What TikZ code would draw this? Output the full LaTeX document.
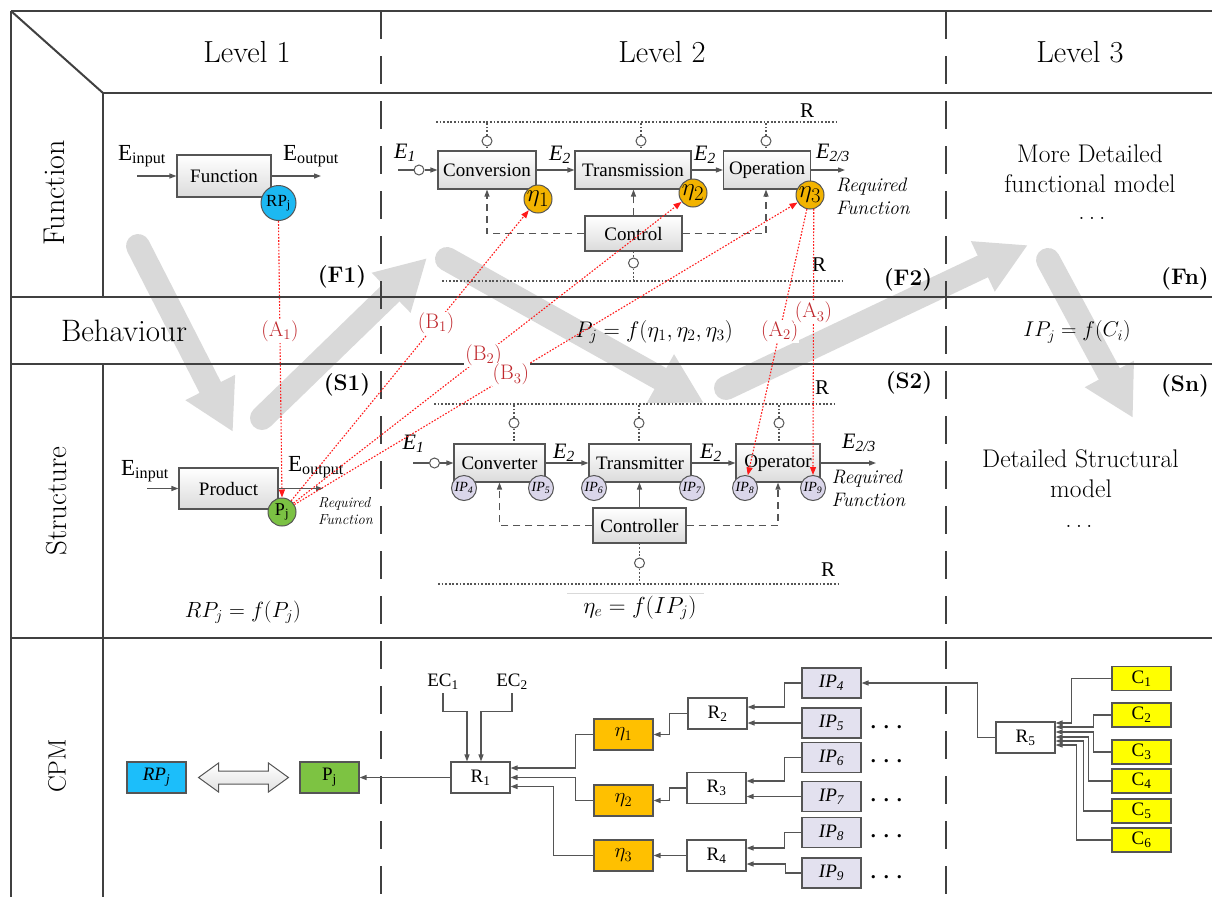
\documentclass[tikz,border=0pt]{standalone}
\usepackage{fontspec}
\usepackage{graphicx}
\usetikzlibrary{arrows.meta,calc}
\newfontfamily\tnr{Liberation Serif}
\newcommand{\fs}[1]{\fontsize{#1}{#1}\selectfont}
\newcommand{\mth}[2]{\fs{20.74}\scalebox{#1}{$#2$}}
\definecolor{tablec}{HTML}{404040}
\definecolor{boxc}{HTML}{555555}
\definecolor{garrow}{HTML}{D9D9D9}
\definecolor{rpblue}{HTML}{1CB8F2}
\definecolor{etagold}{HTML}{F2B300}
\definecolor{pgreen}{HTML}{7BC143}
\definecolor{iplav}{HTML}{DAD6EA}
\definecolor{ipbox}{HTML}{E3E1EF}
\definecolor{cyel}{HTML}{FFFF00}
\definecolor{etabox}{HTML}{FFC000}
\definecolor{redl}{HTML}{FF1A1A}
\definecolor{redt}{HTML}{C0282D}
\definecolor{cpmblue}{HTML}{1CBEFA}
\definecolor{cpmgreen}{HTML}{7DC342}
\begin{document}
\begin{tikzpicture}[x=1pt,y=-1pt,
  tbl/.style={draw=tablec,line width=2pt},
  tbldash/.style={draw=tablec,line width=2pt,dash pattern=on 28pt off 17pt},
  gbox/.style={draw=boxc,line width=1.1pt,top color=white,bottom color=black!14,inner sep=0pt,font=\tnr\fs{19}},
  cbox/.style={draw=boxc,line width=1.1pt,inner sep=0pt,minimum width=59pt,minimum height=31pt,font=\tnr\fs{19}},
  sc/.style={circle,draw=boxc,fill=white,line width=1pt,minimum size=10pt,inner sep=0pt},
  bigc/.style={circle,draw=boxc,line width=1pt,inner sep=0pt},
  arrtip/.style={-{Triangle[length=7pt,width=5pt]}},
  con/.style={draw=boxc,line width=1.2pt,arrtip},
  conl/.style={draw=boxc,line width=1.2pt},
  dashc/.style={draw=boxc,line width=1.2pt,dash pattern=on 7pt off 5pt},
  dotl/.style={draw=boxc,line width=1.2pt,dash pattern=on 1.8pt off 1.8pt},
  redc/.style={draw=redl,line width=1.1pt,dash pattern=on 1.6pt off 1.6pt,-{Triangle[length=8pt,width=6pt]}},
  redlab/.style={fill=white,inner sep=1pt,text=redt,font=\fontsize{21}{21}\selectfont},
  garr/.style={draw=garrow,line width=24pt,line cap=round,-{Triangle[length=50pt,width=52pt]}},
  elab/.style={font=\tnr\itshape\fs{22},anchor=base,inner sep=0pt},
  rlab/.style={font=\tnr\fs{21},inner sep=0pt},
  tag/.style={font=\bfseries\fs{22.5},inner sep=0pt},
  l3/.style={font=\fs{25.5},anchor=base,inner sep=0pt},
  dotsty/.style={font=\tnr\bfseries\fs{20},anchor=base west,inner sep=0pt}]
\useasboundingbox (0,0) rectangle (1212,897);

% big grey flow arrows
\draw[garr] (138,246) -- (233,432);
\draw[garr] (262,418) -- (427,258);
\draw[garr] (447,259) -- (704,403);
\draw[garr] (726,388) -- (1028,245);
\draw[garr] (1048,260) -- (1133,418);

% table
\draw[tbl] (11,11) -- (1212,11);
\draw[tbl] (11,11) -- (11,897);
\draw[tbl] (11,11) -- (103,93);
\draw[tbl] (103,93) -- (1212,93);
\draw[tbl] (103,93) -- (103,297);
\draw[tbl] (103,364) -- (103,897);
\draw[tbl] (11,297) -- (1212,297);
\draw[tbl] (11,364) -- (1212,364);
\draw[tbl] (11,638) -- (1212,638);
\draw[tbldash] (381,11) -- (381,897);
\draw[tbldash] (946,11) -- (946,897);

% headers
\node[font=\fs{30.5}] (lv1) at (247,52) {Level 1};
\node[font=\fs{30.5}] (lv2) at (662,52) {Level 2};
\node[font=\fs{30.5}] (lv3) at (1080,52) {Level 3};
\node[font=\fs{30}, rotate=90] (rfun) at (54,193) {Function};
\node[font=\fs{31}] (rbeh) at (124,331) {Behaviour};
\node[font=\fs{29}, rotate=90] (rstr) at (57,501) {Structure};
\node[font=\fs{25},rotate=90] (rcpm) at (57,766) {CPM};

% ---------- Function, level 1
\node[gbox,minimum width=94pt,minimum height=42pt] (fun) at (224,176) {Function};
\coordinate (fin1) at (137,176);
\coordinate (fout1) at (321,176);
\draw[con] (fin1) -- (fun.west);
\draw[con] (fun.east) -- (fout1);
\node[font=\tnr\fs{23},anchor=base,inner sep=0pt] (ein1) at (142,160) {E\textsubscript{input}};
\node[font=\tnr\fs{23},anchor=base,inner sep=0pt] (eout1) at (311,160) {E\textsubscript{output}};
\node[bigc,fill=rpblue,minimum size=35pt,font=\tnr\fs{17}] (rpj) at (278.5,203) {RP\textsubscript{j}};
\node[tag] (tf1) at (342,277) {(F1)};

% ---------- Function, level 2
\node[gbox,minimum width=98pt,minimum height=38pt] (conv) at (487,170) {Conversion};
\node[gbox,minimum width=116pt,minimum height=38pt] (trans) at (633,170) {Transmission};
\node[gbox,minimum width=87pt,minimum height=38pt] (oper) at (767,170) {Operation};
\node[gbox,minimum width=97pt,minimum height=35pt] (ctrl) at (633.5,233.5) {Control};
\coordinate (ftl) at (436,122); \coordinate (ftr) at (836,122);
\coordinate (fbl) at (442,281); \coordinate (fbr) at (842,281);
\draw[dotl] (ftl) -- (ftr);
\draw[dotl] (fbl) -- (fbr);
\node[sc] (fc1) at (487,141) {};
\node[sc] (fc2) at (641,141) {};
\node[sc] (fc3) at (766,141) {};
\foreach \c/\b in {fc1/conv,fc2/trans,fc3/oper}{
  \draw[dotl] (\c.north) -- (\c |- ftl);
  \draw[dotl] (\c.south) -- (\c |- \b.north);}
\node[sc] (fc4) at (633.5,263) {};
\draw[dotl] (ctrl.south) -- (fc4.north);
\draw[dotl] (fc4.south) -- (fc4 |- fbl);
\coordinate (fin2) at (398,170);
\node[sc] (fcin) at (419,170) {};
\draw[conl] (fin2) -- (fcin.west);
\draw[con] (fcin.east) -- (conv.west);
\draw[con] (conv.east) -- (trans.west);
\draw[con] (trans.east) -- (oper.west);
\coordinate (fout2) at (845,170);
\draw[con] (oper.east) -- (fout2);
\draw[dashc,arrtip] (ctrl.west) -| (conv.south);
\draw[dashc,arrtip] (ctrl.east) -| ($(oper.south)+(-1,0)$);
\draw[dashc,arrtip] (ctrl.north) -- (ctrl.north |- trans.south);
\node[elab] (fe1) at (405,158) {E\textsubscript{1}};
\node[elab] (fe2) at (560,160) {E\textsubscript{2}};
\node[elab] (fe3) at (705,160) {E\textsubscript{2}};
\node[elab] (fe4) at (833,158) {E\textsubscript{2/3}};
\node[rlab] (fr1) at (807,110.5) {R};
\node[rlab] (fr2) at (819,265) {R};
\node[font=\fontsize{19.5}{23}\selectfont\itshape,align=left,anchor=west,inner sep=0pt] (frf) at (836,196.5) {Required\\Function};
\node[bigc,fill=etagold,minimum size=28pt,font=\fs{24.88}] (eta1) at (538,199) {$\eta_1$};
\node[bigc,fill=etagold,minimum size=28pt,font=\fs{24.88}] (eta2) at (693,193) {$\eta_2$};
\node[bigc,fill=etagold,minimum size=28pt,font=\fs{24.88}] (eta3) at (810,195) {$\eta_3$};
\node[tag] (tf2) at (908,280) {(F2)};

% ---------- Function, level 3
\node[l3] (md1) at (1090,162) {More Detailed};
\node[l3] (md2) at (1090,192) {functional model};
\node[l3] (md3) at (1092,219) {.\hspace{4pt}.\hspace{4pt}.};
\node[tag] (tfn) at (1185,279) {(Fn)};

% ---------- Behaviour
\node (pjf) at (654,332) {\mth{1.09}{P_j = f(\eta_1, \eta_2, \eta_3)}};
\node (ipf) at (1077,332) {\mth{1.03}{IP_j = f(C_i)}};

% ---------- Structure, level 1
\node[gbox,minimum width=99pt,minimum height=41pt] (prod) at (228.5,488.5) {Product};
\coordinate (sin1) at (147,488.5);
\coordinate (sout1) at (323,488.5);
\draw[con] (sin1) -- (prod.west);
\draw[con] (prod.east) -- (sout1);
\node[font=\tnr\fs{23},anchor=base,inner sep=0pt] (ein2) at (145,475) {E\textsubscript{input}};
\node[font=\tnr\fs{23},anchor=base,inner sep=0pt] (eout2) at (316,471) {E\textsubscript{output}};
\node[bigc,fill=pgreen,minimum size=28pt,font=\tnr\fs{18}] (pj) at (282,512) {P\textsubscript{j}};
\node[font=\fontsize{14.5}{17}\selectfont\itshape,align=left,anchor=west,inner sep=0pt] (srf1) at (318,511.5) {Required\\Function};
\node[tag] (ts1) at (347,385) {(S1)};
\node (rpf) at (243,612) {\mth{1.06}{RP_j = f(P_j)}};

% ---------- Structure, level 2
\node[gbox,minimum width=91pt,minimum height=38pt] (cvt) at (499.5,463) {Converter};
\node[gbox,minimum width=102pt,minimum height=38pt] (tmt) at (640,463) {Transmitter};
\node[gbox,minimum width=84pt,minimum height=38pt] (opr) at (778,463) {Operator};
\node[gbox,minimum width=93pt,minimum height=35pt] (ctl) at (639.5,525.5) {Controller};
\coordinate (stl) at (434,404); \coordinate (str) at (834,404);
\coordinate (sbl) at (438,584); \coordinate (sbr) at (839,584);
\draw[dotl] (stl) -- (str);
\draw[dotl] (sbl) -- (sbr);
\node[sc] (sc1) at (514,423) {};
\node[sc] (sc2) at (639,423) {};
\node[sc] (sc3) at (779,423) {};
\foreach \c/\b in {sc1/cvt,sc2/tmt,sc3/opr}{
  \draw[dotl] (\c.north) -- (\c |- stl);
  \draw[dotl] (\c.south) -- (\c |- \b.north);}
\node[sc] (sc4) at (639.5,563) {};
\draw[dotl] (ctl.south) -- (sc4.north);
\draw[dotl] (sc4.south) -- (sc4 |- sbl);
\coordinate (sin2) at (413,463);
\node[sc] (scin) at (434.5,463) {};
\draw[conl] (sin2) -- (scin.west);
\draw[con] (scin.east) -- (cvt.west);
\draw[con] (cvt.east) -- (tmt.west);
\draw[con] (tmt.east) -- (opr.west);
\coordinate (sout2) at (876,463);
\draw[con] (opr.east) -- (sout2);
\draw[dashc,arrtip] (ctl.west) -| (cvt.south);
\draw[dashc,arrtip] (ctl.east) -| (opr.south);
\draw[conl,arrtip] (ctl.north) -- (ctl.north |- tmt.south);
\node[elab] (se1) at (413.5,449) {E\textsubscript{1}};
\node[elab] (se2) at (564,458) {E\textsubscript{2}};
\node[elab] (se3) at (711,458) {E\textsubscript{2}};
\node[elab] (se4) at (859,448) {E\textsubscript{2/3}};
\node[rlab] (sr1) at (822,388) {R};
\node[rlab] (sr2) at (828,569.5) {R};
\node[font=\fontsize{19.5}{23}\selectfont\itshape,align=left,anchor=west,inner sep=0pt] (srf2) at (831.5,488.5) {Required\\Function};
\node[bigc,fill=iplav,minimum size=25pt,font=\tnr\itshape\fs{14}] (ip4c) at (464,488) {IP\textsubscript{4}};
\node[bigc,fill=iplav,minimum size=25pt,font=\tnr\itshape\fs{14}] (ip5c) at (541,488) {IP\textsubscript{5}};
\node[bigc,fill=iplav,minimum size=25pt,font=\tnr\itshape\fs{14}] (ip6c) at (594,488) {IP\textsubscript{6}};
\node[bigc,fill=iplav,minimum size=25pt,font=\tnr\itshape\fs{14}] (ip7c) at (692,488) {IP\textsubscript{7}};
\node[bigc,fill=iplav,minimum size=25pt,font=\tnr\itshape\fs{14}] (ip8c) at (745,488) {IP\textsubscript{8}};
\node[bigc,fill=iplav,minimum size=25pt,font=\tnr\itshape\fs{14}] (ip9c) at (813,488) {IP\textsubscript{9}};
\node[tag] (ts2) at (909,383) {(S2)};
\draw[black!15,line width=1pt] (567,593) -- (704,593);
\node (etaf) at (640,608) {\mth{1.12}{\eta_e = f(IP_j)}};

% ---------- Structure, level 3
\node[l3] (ds1) at (1080.5,467) {Detailed Structural};
\node[l3] (ds2) at (1081,497) {model};
\node[l3] (ds3) at (1079,527) {.\hspace{4pt}.\hspace{4pt}.};
\node[tag] (tsn) at (1185,386) {(Sn)};

% ---------- CPM
\node[cbox,fill=cpmblue,font=\tnr\itshape\fs{19}] (rpb) at (156.5,777.5) {RP\textsubscript{j}};
\node[cbox,fill=cpmgreen] (pjb) at (329.5,777.5) {P\textsubscript{j}};
\coordinate (da1) at ($(rpb.east)+(12,0)$);
\coordinate (da2) at ($(pjb.west)+(-11,0)$);
\draw[draw=boxc,line width=1pt,top color=white,bottom color=black!12]
  (da1) -- ++(20,-14.5) -- ++(0,8) -- ($(da2)+(-20,-6.5)$) -- ++(0,-8) -- (da2)
  -- ++(-20,14.5) -- ++(0,-8) -- ($(da1)+(20,6.5)$) -- ++(0,8) -- cycle;
\node[cbox,fill=white] (r1) at (480.5,777.5) {R\textsubscript{1}};
\node[font=\tnr\fs{19}] (ec1) at (443,682) {EC\textsubscript{1}};
\node[font=\tnr\fs{19}] (ec2) at (512,682) {EC\textsubscript{2}};
\node[cbox,fill=etabox,font=\fs{20.74}] (e1) at (623.5,734.5) {$\eta_1$};
\node[cbox,fill=etabox,font=\fs{20.74}] (e2) at (623.5,800.5) {$\eta_2$};
\node[cbox,fill=etabox,font=\fs{20.74}] (e3) at (623.5,855.5) {$\eta_3$};
\node[cbox,fill=white] (r2) at (717.5,713.5) {R\textsubscript{2}};
\node[cbox,fill=white] (r3) at (716.5,788) {R\textsubscript{3}};
\node[cbox,fill=white] (r4) at (716.5,855.5) {R\textsubscript{4}};
\node[cbox,fill=ipbox,font=\tnr\itshape\fs{19},minimum height=30pt] (ip4) at (831.5,683) {IP\textsubscript{4}};
\node[cbox,fill=ipbox,font=\tnr\itshape\fs{19},minimum height=30pt] (ip5) at (831.5,723) {IP\textsubscript{5}};
\node[cbox,fill=ipbox,font=\tnr\itshape\fs{19},minimum height=30pt] (ip6) at (831.5,757.5) {IP\textsubscript{6}};
\node[cbox,fill=ipbox,font=\tnr\itshape\fs{19},minimum height=30pt] (ip7) at (831.5,796.5) {IP\textsubscript{7}};
\node[cbox,fill=ipbox,font=\tnr\itshape\fs{19},minimum height=30pt] (ip8) at (831.5,832.5) {IP\textsubscript{8}};
\node[cbox,fill=ipbox,font=\tnr\itshape\fs{19},minimum height=30pt] (ip9) at (831.5,873) {IP\textsubscript{9}};
\foreach \i in {5,6,7,8,9}{
  \node[dotsty] (d\i) at ($(ip\i.east)+(9,5)$) {.\hspace{8pt}.\hspace{8pt}.};}
\node[cbox,fill=white] (r5) at (1025.5,737.5) {R\textsubscript{5}};
\node[cbox,fill=cyel,minimum height=24pt] (c1) at (1141.5,678.5) {C\textsubscript{1}};
\node[cbox,fill=cyel,minimum height=24pt] (c2) at (1141.5,715) {C\textsubscript{2}};
\node[cbox,fill=cyel,minimum height=24pt] (c3) at (1141.5,752) {C\textsubscript{3}};
\node[cbox,fill=cyel,minimum height=24pt] (c4) at (1141.5,781) {C\textsubscript{4}};
\node[cbox,fill=cyel,minimum height=24pt] (c5) at (1141.5,811) {C\textsubscript{5}};
\node[cbox,fill=cyel,minimum height=24pt] (c6) at (1141.5,840) {C\textsubscript{6}};

\draw[con] (r1.west) -- (pjb.east);
\draw[con] (ec1.south) |- ($(r1.north)+(-13.5,-50)$) -- ($(r1.north)+(-13.5,0)$);
\draw[con] (ec2.south) |- ($(r1.north)+(0.5,-50)$) -- ($(r1.north)+(0.5,0)$);
\draw[con] (e1.west) -- ++(-18,0) |- ($(r1.east)+(0,-9.5)$);
\draw[con] (e2.west) -- ++(-18,0) |- (r1.east);
\draw[con] (e3.west) -- ++(-40,0) |- ($(r1.east)+(0,9)$);
\draw[con] (r2.west) -- ++(-18,0) |- (e1.east);
\draw[con] (r3.west) -- ++(-17,0) |- (e2.east);
\draw[con] (r4.west) -- (e3.east);
\draw[con] (ip4.west) -- ++(-17,0) |- ($(r2.east)+(0,-6.5)$);
\draw[con] (ip5.west) -- (ip5.west -| r2.east);
\draw[con] (ip6.west) -- ++(-17,0) |- ($(r3.east)+(0,-7)$);
\draw[con] (ip7.west) -- (ip7.west -| r3.east);
\draw[con] (ip8.west) -- ++(-17,0) |- ($(r4.east)+(0,-7.5)$);
\draw[con] (ip9.west) -- ++(-16,0) |- ($(r4.east)+(0,8.5)$);
\draw[con] (r5.west) -- ++(-18,0) |- (ip4.east);
\draw[con] (c1.west) -- ++(-40,0) |- ($(r5.east)+(0,-14.5)$);
\draw[con] (c2.west) -- ++(-18,0) |- ($(r5.east)+(0,-10.5)$);
\draw[con] (c3.west) -- ++(-18,0) |- ($(r5.east)+(0,-5.5)$);
\draw[con] (c4.west) -- ++(-23,0) |- ($(r5.east)+(0,-0.5)$);
\draw[con] (c5.west) -- ++(-28,0) |- ($(r5.east)+(0,3.5)$);
\draw[con] (c6.west) -- ++(-35,0) |- ($(r5.east)+(0,7.5)$);

% ---------- red mapping links (labels placed as named nodes over the lines)
\draw[redc] (rpj.south) -- (pj.north) coordinate[pos=0.40] (pa1);
\draw[redc] (pj) -- (eta1) coordinate[pos=0.61] (pb1);
\draw[redc] (pj) -- (eta2) coordinate[pos=0.49] (pb2);
\draw[redc] (pj) -- (eta3) coordinate[pos=0.43] (pb3);
\draw[redc] (eta3) -- (ip8c) coordinate[pos=0.46] (pa2);
\draw[redc] (eta3.-75) -- (ip9c.north) coordinate[pos=0.39] (pa3);
\node[redlab] (la1) at (pa1) {(A\textsubscript{1})};
\node[redlab] (lb1) at (pb1) {(B\textsubscript{1})};
\node[redlab] (lb2) at (pb2) {(B\textsubscript{2})};
\node[redlab] (lb3) at (pb3) {(B\textsubscript{3})};
\node[redlab] (la2) at (pa2) {(A\textsubscript{2})};
\node[redlab] (la3) at (pa3) {(A\textsubscript{3})};
\end{tikzpicture}
\end{document}
